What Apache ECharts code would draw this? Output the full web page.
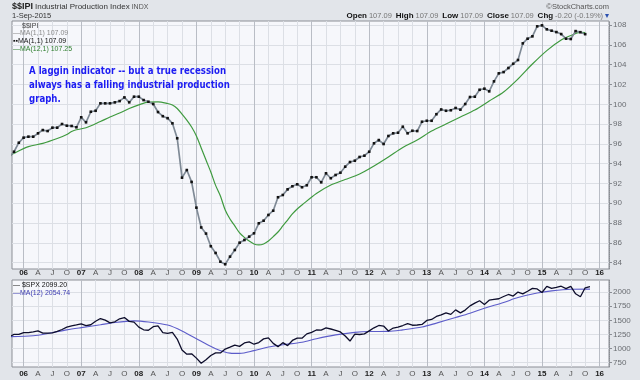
<!DOCTYPE html>
<html><head><meta charset="utf-8">
<script src="https://cdn.jsdelivr.net/npm/echarts@6/dist/echarts.min.js"></script>
<style>html,body{margin:0;padding:0;background:#e2e5ea}#c{width:640px;height:380px}</style>
</head><body><div id="c"></div>
<script>
// Month slots on the shared x axis: 2005-10 .. 2016-02
const months = [];
for (let y = 2005, m = 10; !(y === 2016 && m === 3);) {
  months.push(y + '-' + String(m).padStart(2, '0'));
  m++; if (m > 12) { m = 1; y++; }
}
// $$IPI monthly values (slot 0 = 2005-10, clipped at left edge)
const ipValues = [94.65,
  95.21, 96.12, 96.63, 96.73, 96.73, 97.07, 97.40, 97.30, 97.64, 97.64,
  98.01, 97.84, 97.81, 97.68, 98.69, 98.18, 99.25, 99.35, 100.10, 100.10,
  100.10, 100.20, 100.33, 100.70, 100.20, 100.77, 100.77, 100.43, 100.26, 100.03,
  99.22, 98.80, 98.60, 98.08, 96.57, 92.59, 93.36, 92.16, 89.56, 87.56,
  86.94, 85.66, 84.98, 84.10, 83.84, 84.61, 85.28, 86.02, 86.29, 86.63,
  86.97, 87.98, 88.24, 88.82, 89.25, 90.61, 90.84, 91.41, 91.72, 91.92,
  91.62, 91.82, 92.63, 92.63, 92.12, 93.03, 92.53, 92.86, 93.09, 93.70,
  94.17, 94.30, 94.68, 94.81, 95.21, 96.06, 96.39, 95.99, 96.80, 97.07,
  97.13, 97.74, 97.07, 97.33, 97.30, 98.24, 98.34, 98.34, 99.00, 99.48,
  99.35, 99.40, 99.63, 99.46, 100.03, 100.74, 100.77, 101.47, 101.58, 101.31,
  102.32, 103.13, 103.26, 103.67, 104.10, 104.48, 106.16, 106.63, 106.87, 107.88,
  107.98, 107.58, 107.44, 107.30, 107.10, 106.63, 106.60, 107.40, 107.29, 107.09];
// MA(12,1)
const ipMaMonths = ['2005-10','2005-11','2006-02','2006-05','2006-08','2006-10','2006-11','2006-12','2007-02','2007-05','2007-07','2007-09','2007-11','2008-01','2008-03','2008-05','2008-07','2008-08','2008-09','2008-10','2008-11','2008-12','2009-01','2009-02','2009-03','2009-04','2009-05','2009-06','2009-07','2009-08','2009-09','2009-10','2009-11','2009-12','2010-01','2010-02','2010-03','2010-04','2010-05','2010-06','2010-07','2010-08','2010-09','2010-10','2010-11','2011-02','2011-05','2011-08','2011-11','2012-02','2012-05','2012-08','2012-11','2013-02','2013-05','2013-08','2013-11','2014-02','2014-05','2014-08','2014-11','2015-02','2015-05','2015-07','2015-09','2015-10'];
const ipMaValues = [94.76,95.05,95.72,96.06,96.55,96.95,97.25,97.43,97.63,98.26,98.72,99.12,99.58,99.95,100.23,100.25,100.08,99.93,99.58,99.02,98.41,97.71,96.80,95.59,94.37,93.16,91.81,90.74,89.32,88.41,87.71,87.00,86.55,86.19,85.89,85.79,85.89,86.19,86.63,87.10,87.71,88.31,88.92,89.42,89.83,90.99,91.85,92.40,92.96,93.77,94.68,95.64,96.39,97.30,98.01,98.72,99.42,100.33,101.24,102.56,104.07,105.43,106.49,106.95,107.27,107.25];
// $SPX monthly closes (slot 0 = 2005-10)
const spxValues = [1207, 1249, 1248,
  1280, 1281, 1295, 1311, 1270, 1270, 1277, 1304, 1336, 1378, 1401, 1418,
  1438, 1407, 1421, 1482, 1531, 1503, 1455, 1474, 1527, 1549, 1481, 1468,
  1379, 1331, 1323, 1386, 1400, 1280, 1267, 1283, 1166, 969, 896, 903,
  826, 735, 798, 873, 919, 919, 987, 1021, 1057, 1036, 1096, 1115,
  1074, 1104, 1169, 1187, 1089, 1031, 1102, 1049, 1141, 1183, 1181, 1258,
  1286, 1327, 1326, 1364, 1345, 1321, 1292, 1219, 1131, 1253, 1247, 1258,
  1312, 1366, 1408, 1398, 1310, 1362, 1379, 1407, 1441, 1412, 1416, 1426,
  1498, 1515, 1569, 1598, 1631, 1606, 1686, 1633, 1682, 1757, 1806, 1848,
  1783, 1859, 1872, 1884, 1924, 1960, 1931, 2003, 1972, 2018, 2068, 2059,
  1995, 2105, 2068, 2086, 2107, 2063, 2104, 1972, 1920, 2079, 2099.2];
const spxMaMonths = ['2005-10','2006-03','2006-06','2006-10','2007-01','2007-05','2007-08','2007-12','2008-03','2008-07','2008-10','2009-02','2009-05','2009-08','2009-10','2010-01','2010-04','2010-07','2010-11','2011-02','2011-06','2011-10','2012-01','2012-05','2012-08','2012-12','2013-03','2013-07','2013-10','2014-01','2014-05','2014-08','2014-12','2015-03','2015-07','2015-11'];
const spxMaValues = [1208,1225,1265,1330,1370,1420,1462,1490,1470,1415,1310,1125,995,916,910,960,1025,1064,1110,1172,1240,1285,1300,1302,1330,1380,1450,1550,1627,1715,1818,1905,1985,2025,2053,2055];
const ipTicks = [84, 86, 88, 90, 92, 94, 96, 98, 100, 102, 104, 106, 108];
const spxTicks = [750, 1000, 1250, 1500, 1750, 2000];
const quarterNames = { '04': 'A', '07': 'J', '10': 'O' };
const noteLines = ['A laggin indicator -- but a true recession', 'always has a falling industrial production', 'graph.'];

const xTicks = [];
months.forEach((m, i) => { const mm = m.slice(5); if (i > 0 && (mm === '01' || quarterNames[mm])) xTicks.push(i); });
function xFmt(v) {
  const m = months[Math.round(v)]; const mm = m.slice(5);
  return mm === '01' ? '{y|' + m.slice(2, 4) + '}' : '{m|' + quarterNames[mm] + '}';
}
const FONT = 'Liberation Sans';
function xAxisDef(gi) {
  return {
    type: 'value', gridIndex: gi, min: 0.58, max: 124.96,
    axisLine: { show: false }, axisTick: { show: false, customValues: xTicks },
    axisLabel: { customValues: xTicks, formatter: xFmt, margin: gi === 0 ? 0 : 3,
      rich: { y: { fontWeight: 'bold', fontSize: 8, color: '#222', fontFamily: FONT },
              m: { fontSize: 8, color: '#555', fontFamily: FONT } } },
    splitLine: { show: true, lineStyle: { color: ['#b9bdc5', '#dcdfe5', '#dcdfe5', '#dcdfe5'], width: 1 } }
  };
}
function yAxisDef(gi, min, max, ticks) {
  return {
    type: 'value', gridIndex: gi, position: 'right', min: min, max: max,
    axisLine: { show: true, lineStyle: { color: '#8a8d94', type: 'dotted' } },
    axisTick: { show: true, length: 3, customValues: ticks, lineStyle: { color: '#8a8d94' } },
    axisLabel: { customValues: ticks, margin: 4, fontSize: 8, color: '#6a6d72', fontFamily: FONT,
      formatter: (v) => String(v) },
    splitLine: { show: true, lineStyle: { color: '#dcdfe5', width: 1 } }
  };
}
const pair = (arr) => arr.map((v, i) => [i, v]);
const pairBy = (ms, vs) => ms.map((m, i) => [months.indexOf(m), vs[i]]);

// fit the annotation to the reference's narrow bold lettering
const NOTE_FONT = 'bold 11px "DejaVu Sans"';
const mctx = document.createElement('canvas').getContext('2d');
mctx.font = NOTE_FONT;
const noteScale = 197 / mctx.measureText(noteLines[0]).width;

const chart = echarts.init(document.getElementById('c'), null, { renderer: 'canvas' });
const txt = (x, y, text, style) => ({ type: 'text', x: x, y: y, silent: true, z: 100,
  style: Object.assign({ text: text, fontFamily: FONT, fontSize: 7, fill: '#333', textVerticalAlign: 'middle' }, style) });

chart.setOption({
  backgroundColor: '#e2e5ea',
  animation: false,
  grid: [
    { left: 12, top: 21, width: 597, height: 248, show: true, backgroundColor: '#f6f7fb', borderColor: '#8c8f96', borderWidth: 1 },
    { left: 12, top: 280, width: 597, height: 87, show: true, backgroundColor: '#f6f7fb', borderColor: '#8c8f96', borderWidth: 1 }
  ],
  xAxis: [xAxisDef(0), xAxisDef(1)],
  yAxis: [yAxisDef(0, 83.36, 108.42, ipTicks), yAxisDef(1, 668, 2218, spxTicks)],
  series: [
    { type: 'line', xAxisIndex: 0, yAxisIndex: 0, data: pairBy(ipMaMonths, ipMaValues), smooth: 0.3,
      showSymbol: false, lineStyle: { color: '#3f9a3f', width: 1.2 }, z: 2 },
    { type: 'line', xAxisIndex: 0, yAxisIndex: 0, data: pair(ipValues), symbol: 'rect', symbolSize: 2.6,
      itemStyle: { color: '#111' }, lineStyle: { color: '#7f8a96', width: 1.7 }, z: 3 },
    { type: 'line', xAxisIndex: 1, yAxisIndex: 1, data: pairBy(spxMaMonths, spxMaValues), smooth: 0.3,
      showSymbol: false, lineStyle: { color: '#5c5cc9', width: 1.1 }, z: 2 },
    { type: 'line', xAxisIndex: 1, yAxisIndex: 1, data: pair(spxValues), showSymbol: false,
      lineStyle: { color: '#0d0d2b', width: 1.3 }, z: 3 }
  ],
  graphic: [
    txt(12, 7, '{b|$$IPI} {n|Industrial Production Index} {s|INDX}', { rich: {
      b: { fontWeight: 'bold', fontSize: 9, fill: '#222', fontFamily: FONT },
      n: { fontSize: 8, fill: '#333', fontFamily: FONT },
      s: { fontSize: 7, fill: '#555', fontFamily: FONT } } }),
    txt(12, 16, '1-Sep-2015', { fontSize: 7.5, fill: '#333' }),
    txt(609, 7, '\u00A9StockCharts.com', { fontSize: 7.5, fill: '#555', textAlign: 'right' }),
    txt(609, 16, '{l|Open} {v|107.09}  {l|High} {v|107.09}  {l|Low} {v|107.09}  {l|Close} {v|107.09}  {l|Chg} {v|-0.20 (-0.19%)} {a|\u25BE}',
      { textAlign: 'right', rich: {
        l: { fontWeight: 'bold', fontSize: 8, fill: '#111', fontFamily: FONT },
        v: { fontSize: 7.5, fill: '#777', fontFamily: FONT },
        a: { fontSize: 8, fill: '#2a4fb0', fontFamily: FONT } } }),
    txt(22, 26, '$$IPI', { fontSize: 7, fill: '#444' }),
    txt(13, 33.5, '\u2014MA(1,1) 107.09', { fontSize: 7, fill: '#8a8a8a' }),
    txt(13, 41.5, '\u25AA\u25AAMA(1,1) 107.09', { fontSize: 7, fill: '#111' }),
    txt(13, 49.5, '\u2014MA(12,1) 107.25', { fontSize: 7, fill: '#2f7f2f' }),
    txt(13, 285, '\u2014 $SPX 2099.20', { fontSize: 7, fill: '#111' }),
    txt(13, 293.5, '\u2014MA(12) 2054.74', { fontSize: 7, fill: '#3a3ab0' }),
    { type: 'text', x: 29, y: 64, scaleX: noteScale, silent: true, z: 100, style: {
      text: noteLines.join('\n'), font: NOTE_FONT,
      lineHeight: 14, fill: '#1c1cf2', textVerticalAlign: 'top' } }
  ]
});
</script></body></html>
